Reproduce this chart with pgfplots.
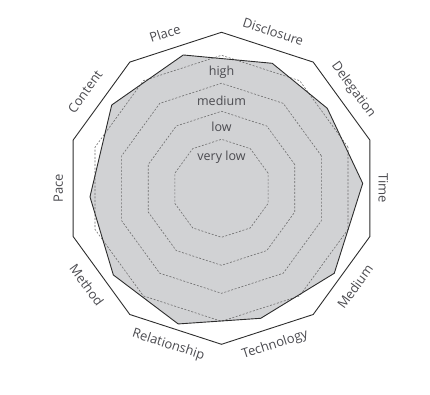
\documentclass[border=0pt]{standalone}
\usepackage{pgfplots}
\pgfplotsset{compat=1.18}
\usepackage{fontspec}
\setmainfont{Open Sans}
\definecolor{txt}{RGB}{75,75,80}
\definecolor{fillg}{RGB}{209,210,212}
\definecolor{edge}{RGB}{45,45,45}
\definecolor{dash}{RGB}{110,110,110}
\begin{document}
\begin{tikzpicture}
\begin{axis}[x=1pt,y=1pt,xmin=-221.5,xmax=208.5,ymin=-206.7,ymax=188.3,
  hide axis,clip=false,scale only axis]
\path (rel axis cs:0,0) rectangle (rel axis cs:1,1);
% data polygon: (angle in degrees, radius)
\addplot[data cs=polar,fill=fillg,draw=none] coordinates {
 (2,141.3) (37.1,132.6) (67.9,134.9) (106,138.7) (142.8,137.8)
 (183.7,131.8) (218.7,138.6) (252.3,142.4) (286.8,135.8) (323,141.2)} -- cycle;
% grid levels
\foreach \r in {49,77,105,133}{
\addplot[data cs=polar,draw=dash,dash pattern=on 2pt off 1.6pt,line width=0.6pt] coordinates {
 (18,\r) (54,\r) (90,\r) (126,\r) (162,\r) (198,\r) (234,\r) (270,\r) (306,\r) (342,\r)} -- cycle;
}
\addplot[data cs=polar,draw=edge,line width=0.9pt,line join=miter] coordinates {
 (2,141.3) (37.1,132.6) (67.9,134.9) (106,138.7) (142.8,137.8)
 (183.7,131.8) (218.7,138.6) (252.3,142.4) (286.8,135.8) (323,141.2)} -- cycle;
% outer frame
\addplot[data cs=polar,draw=edge,line width=0.9pt,line join=miter] coordinates {
 (18,156) (54,156) (90,156) (126,156) (162,156) (198,156) (234,156) (270,156) (306,156) (342,156)} -- cycle;
% level labels
\begin{scope}[every node/.style={font=\fontsize{12.5}{14}\selectfont,text=txt,inner sep=0pt}]
\node at (axis cs:0,116.3) {high};
\node at (axis cs:0,87.8) {medium};
\node at (axis cs:0,61.3) {low};
\node at (axis cs:0,31) {very low};
\end{scope}
% category labels
\begin{scope}[every node/.style={font=\fontsize{13}{15}\selectfont,text=txt,inner sep=0pt}]
\node[rotate=18] at (axis cs:-56.5,155) {Place};
\node[rotate=-18] at (axis cs:51.8,156.6) {Disclosure};
\node[rotate=-54] at (axis cs:131.8,98.3) {Delegation};
\node[rotate=-90] at (axis cs:161.8,0) {Time};
\node[rotate=54] at (axis cs:133.5,-98.4) {Medium};
\node[rotate=18] at (axis cs:53.5,-156.7) {Technology};
\node[rotate=-18] at (axis cs:-53.2,-156.7) {Relationship};
\node[rotate=-54] at (axis cs:-134.8,-96.7) {Method};
\node[rotate=90] at (axis cs:-163.2,0) {Pace};
\node[rotate=54] at (axis cs:-136.5,96.6) {Content};
\end{scope}
\end{axis}
\end{tikzpicture}
\end{document}
